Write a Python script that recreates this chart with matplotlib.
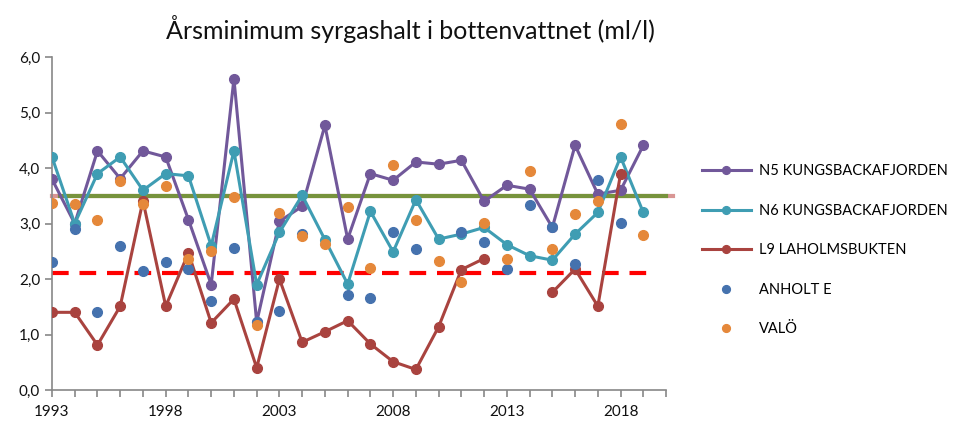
import numpy as np
import matplotlib.pyplot as plt
from matplotlib.ticker import MultipleLocator, FixedLocator, FuncFormatter

plt.rcParams['font.family'] = ['Lato', 'DejaVu Sans']

years = np.arange(1993, 2020)
year_labels = [1993, 1998, 2003, 2008, 2013, 2018]

n5 = [3.80, 3.00, 4.31, 3.81, 4.31, 4.20, 3.07, 1.90, 5.61, 1.22,
      3.04, 3.31, 4.77, 2.72, 3.90, 3.78, 4.11, 4.07, 4.14, 3.40,
      3.69, 3.62, 2.93, 4.41, 3.53, 3.60, 4.41]
n6 = [4.20, 3.00, 3.90, 4.20, 3.60, 3.90, 3.86, 2.60, 4.31, 1.90,
      2.84, 3.51, 2.71, 1.91, 3.22, 2.49, 3.43, 2.72, 2.81, 2.93,
      2.62, 2.42, 2.34, 2.81, 3.20, 4.20, 3.20]
l9 = [1.40, 1.40, 0.81, 1.51, 3.41, 1.51, 2.47, 1.21, 1.64, 0.40,
      2.00, 0.86, 1.05, 1.25, 0.83, 0.51, 0.37, 1.14, 2.17, 2.37,
      np.nan, np.nan, 1.76, 2.18, 1.51, 3.90, np.nan]
anholt = [2.31, 2.90, 1.41, 2.60, 2.14, 2.31, 2.18, 1.60, 2.56, 1.22,
          1.43, 2.81, np.nan, 1.72, 1.66, 2.84, 2.54, np.nan, 2.84, 2.66,
          2.18, 3.34, 2.93, 2.28, 3.78, 3.01, np.nan]
valo = [3.37, 3.35, 3.07, 3.77, 3.35, 3.68, 2.37, 2.50, 3.47, 1.17,
        3.19, 2.77, 2.63, 3.29, 2.20, 4.05, 3.07, 2.32, 1.95, 3.01,
        2.36, 3.95, 2.54, 3.17, 3.41, 4.79, 2.80]

green_level = 3.5
red_level = 2.1

fig = plt.figure(figsize=(9.61, 4.23), dpi=100)
ax = fig.add_axes([0.0541, 0.078, 0.639, 0.787])

# reference lines
ax.plot([1993, 2020.3], [green_level, green_level], color='#D99694', lw=3, zorder=1, clip_on=False)
ax.plot([1993.35, 2020], [green_level, green_level], color='#77933C', lw=3, zorder=2, clip_on=False)
ax.plot([1993, 2019.5], [red_level, red_level], color='#FF0000', lw=3,
        dashes=(4, 2.6), zorder=2)

ax.plot(years, n5, color='#71589A', lw=2.2, marker='o', ms=7, label='N5 KUNGSBACKAFJORDEN', zorder=4)
ax.plot(years, n6, color='#3F9DB3', lw=2.2, marker='o', ms=7, label='N6 KUNGSBACKAFJORDEN', zorder=4)
ax.plot(years, l9, color='#A9433F', lw=2.2, marker='o', ms=7, label='L9 LAHOLMSBUKTEN', zorder=4)
ax.plot(years, anholt, color='#4572AE', lw=0, marker='o', ms=7, label='ANHOLT E', zorder=5)
ax.plot(years, valo, color='#E5883A', lw=0, marker='o', ms=7, label='VALÖ', zorder=5)

ax.set_xlim(1993, 2020)
ax.set_ylim(0, 6)
ax.xaxis.set_major_locator(FixedLocator(year_labels))
ax.xaxis.set_minor_locator(MultipleLocator(1))
ax.yaxis.set_major_locator(MultipleLocator(1))
ax.yaxis.set_major_formatter(FuncFormatter(lambda v, p: f'{v:.1f}'.replace('.', ',')))

for s in ['top', 'right']:
    ax.spines[s].set_visible(False)
for s in ['left', 'bottom']:
    ax.spines[s].set_color('#888888')
    ax.spines[s].set_linewidth(1.2)
ax.tick_params(axis='both', which='both', color='#888888', length=5, width=1.2,
               labelsize=11, labelcolor='#111111')
ax.tick_params(axis='x', which='major', pad=6)

fig.text(0.427, 0.932, 'Årsminimum syrgashalt i bottenvattnet (ml/l)', ha='center', va='center',
         fontsize=18, color='#111111')

ax.legend(loc='center left', bbox_to_anchor=(1.058, 0.42), frameon=False, fontsize=10.5,
          borderpad=0, borderaxespad=0, handlelength=3.4, labelspacing=1.75, handletextpad=0.55,
          markerscale=0.8)

fig.savefig('out.png', dpi=100)
